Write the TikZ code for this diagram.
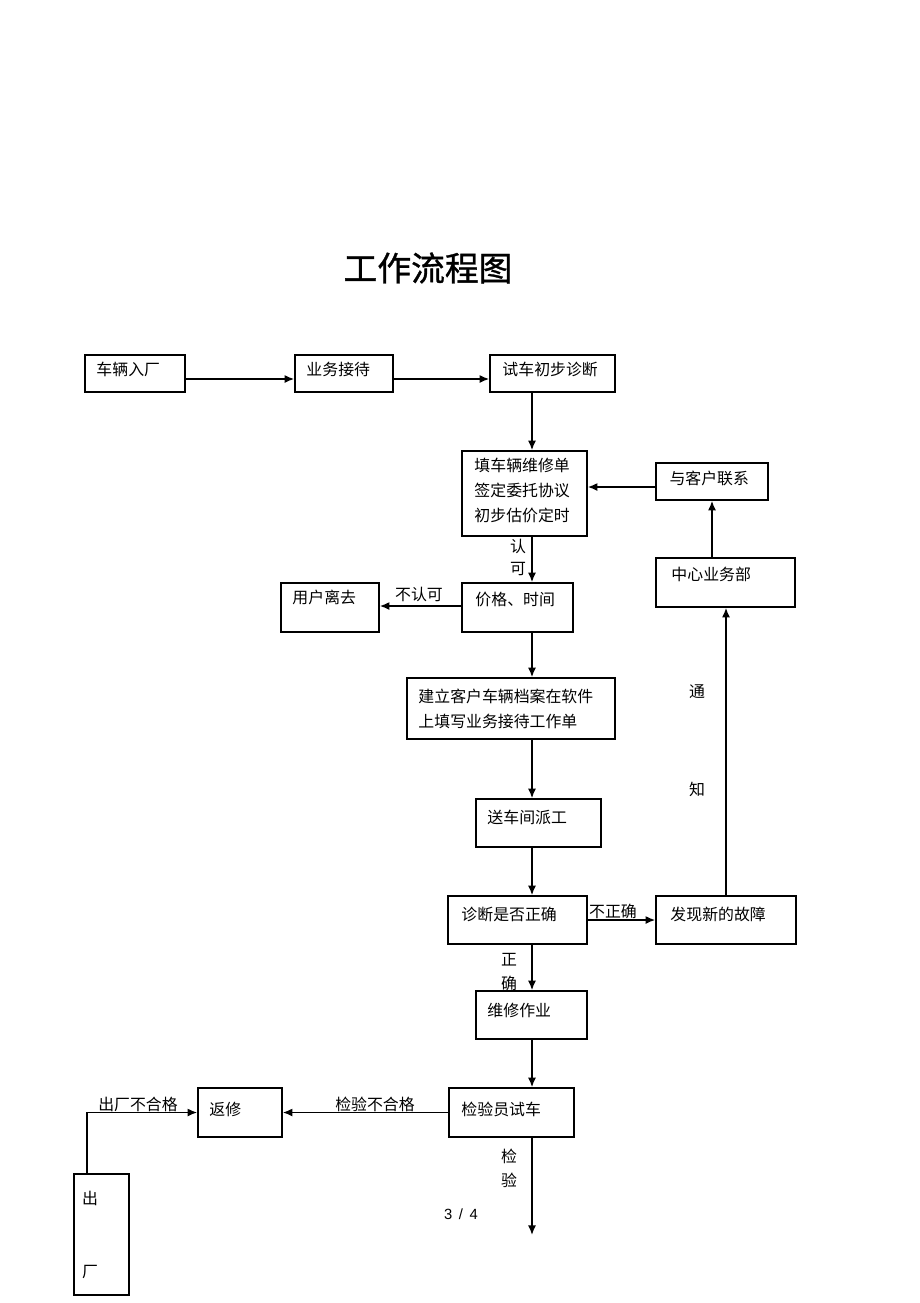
\documentclass[tikz,border=0pt]{standalone}
\usepackage{fontspec}
\setmainfont{Noto Sans CJK SC}
\newfontfamily\titlefont[FakeBold=1]{Noto Sans CJK SC}
\newfontfamily\pagefont{Liberation Sans}
\usetikzlibrary{arrows, arrows.meta, positioning, calc}
\tikzstyle{box} = [rectangle, draw, line width=1.1pt, inner sep=0pt]
\tikzstyle{txt} = [anchor=west, inner sep=0pt, font=\fontsize{11.3}{17.8}\selectfont]
\tikzstyle{lines} = [anchor=north west, align=left, inner sep=0pt, font=\fontsize{11.3}{17.8}\selectfont]
\tikzstyle{lbl} = [inner sep=0pt, font=\fontsize{11.3}{17.8}\selectfont]
\tikzstyle{flow} = [line width=1.1pt,-{Latex[length=0.24cm,width=0.2cm]}]
\begin{document}
\begin{tikzpicture}[x=0.025cm,y=-0.025cm]
  \useasboundingbox [fill=white] (0,0) rectangle (920,1303);
  \node (title) [inner sep=0pt] at (428,268) {\titlefont\fontsize{24}{28}\selectfont 工作流程图};

  \node (car) [box,minimum width=2.5cm,minimum height=0.925cm] at (135,373.5) {};
  \node (recv) [box,minimum width=2.45cm,minimum height=0.925cm] at (344,373.5) {};
  \node (test) [box,minimum width=3.125cm,minimum height=0.925cm] at (552.5,373.5) {};
  \node (form) [box,minimum width=3.125cm,minimum height=2.125cm] at (524.5,493.5) {};
  \node (contact) [box,minimum width=2.8cm,minimum height=0.925cm] at (712,481.5) {};
  \node (center) [box,minimum width=3.475cm,minimum height=1.225cm] at (725.5,582.5) {};
  \node (price) [box,minimum width=2.775cm,minimum height=1.225cm] at (517.5,607.5) {};
  \node (leave) [box,minimum width=2.45cm,minimum height=1.225cm] at (330,607.5) {};
  \node (file) [box,minimum width=5.2cm,minimum height=1.525cm] at (511,708.5) {};
  \node (send) [box,minimum width=3.125cm,minimum height=1.2cm] at (538.5,823) {};
  \node (diag) [box,minimum width=3.475cm,minimum height=1.2cm] at (517.5,920) {};
  \node (fault) [box,minimum width=3.5cm,minimum height=1.2cm] at (726,920) {};
  \node (repair) [box,minimum width=2.775cm,minimum height=1.2cm] at (531.5,1015) {};
  \node (inspect) [box,minimum width=3.125cm,minimum height=1.225cm] at (511.5,1112.5) {};
  \node (redo) [box,minimum width=2.1cm,minimum height=1.225cm] at (240,1112.5) {};
  \node (out) [box,minimum width=1.375cm,minimum height=3.025cm] at (101.5,1234.5) {};

  \node (carT) [txt] at ([shift={(12,15)}]car.north west) {车辆入厂};
  \node (recvT) [txt] at ([shift={(12,15)}]recv.north west) {业务接待};
  \node (testT) [txt] at ([shift={(13,15)}]test.north west) {试车初步诊断};
  \node (formT) [lines] at ([shift={(13,8)}]form.north west) {填车辆维修单\\签定委托协议\\初步估价定时};
  \node (contactT) [txt] at ([shift={(14,16)}]contact.north west) {与客户联系};
  \node (centerT) [txt] at ([shift={(16,17)}]center.north west) {中心业务部};
  \node (priceT) [txt] at ([shift={(14,17)}]price.north west) {价格、时间};
  \node (leaveT) [txt] at ([shift={(12,15)}]leave.north west) {用户离去};
  \node (fileT) [lines] at ([shift={(12,11)}]file.north west) {建立客户车辆档案在软件\\上填写业务接待工作单};
  \node (sendT) [txt] at ([shift={(12,19)}]send.north west) {送车间派工};
  \node (diagT) [txt] at ([shift={(14,19)}]diag.north west) {诊断是否正确};
  \node (faultT) [txt] at ([shift={(15,19)}]fault.north west) {发现新的故障};
  \node (repairT) [txt] at ([shift={(12,20)}]repair.north west) {维修作业};
  \node (inspectT) [txt] at ([shift={(13,22)}]inspect.north west) {检验员试车};
  \node (redoT) [txt] at ([shift={(12,22)}]redo.north west) {返修};
  \node (outA) [lbl] at (90,1198) {出};
  \node (outB) [lbl] at (90,1272) {厂};

  \node (okA) [lbl] at (518,546) {认};
  \node (okB) [lbl] at (518,569) {可};
  \node (notok) [lbl] at (419,594) {不认可};
  \node (tellA) [lbl] at (697,692) {通};
  \node (tellB) [lbl] at (697,789) {知};
  \node (wrong) [lbl] at (613,911) {不正确};
  \node (rightA) [lbl] at (509,960) {正};
  \node (rightB) [lbl] at (509,983) {确};
  \node (fail) [lbl] at (375,1104) {检验不合格};
  \node (outfail) [lbl] at (138,1104) {出厂不合格};
  \node (passA) [lbl] at (509,1156) {检};
  \node (passB) [lbl] at (509,1180) {验};
  \node (page) [inner sep=0pt] at (461,1214) {\pagefont\fontsize{10.5}{12}\selectfont 3\hspace{0.45em}/\hspace{0.45em}4};

  \coordinate (colA) at (532,0);
  \coordinate (colB) at (87,0);
  \coordinate (rowA) at (0,379);
  \coordinate (rowB) at (0,487);
  \coordinate (rowC) at (0,606);
  \coordinate (endpt) at (532,1235);

  \draw [flow] (car.east |- rowA) -- (recv.west |- rowA);
  \draw [flow] (recv.east |- rowA) -- (test.west |- rowA);
  \draw [flow] (test.south -| colA) -- (form.north -| colA);
  \draw [flow] (contact.west |- rowB) -- (form.east |- rowB);
  \draw [flow] (center.north -| contact.south) -- (contact.south);
  \draw [flow] (form.south -| colA) -- (price.north -| colA);
  \draw [flow] (price.west |- rowC) -- (leave.east |- rowC);
  \draw [flow] (price.south -| colA) -- (file.north -| colA);
  \draw [flow] (file.south -| colA) -- (send.north -| colA);
  \draw [flow] (send.south -| colA) -- (diag.north -| colA);
  \draw [flow] (diag.east) -- (fault.west);
  \draw [flow] (fault.north) -- (center.south -| fault.north);
  \draw [flow] (diag.south -| colA) -- (repair.north -| colA);
  \draw [flow] (repair.south -| colA) -- (inspect.north -| colA);
  \draw [flow] (inspect.west) -- (redo.east);
  \draw [flow] (out.north -| colB) |- (redo.west);
  \draw [flow] (inspect.south -| colA) -- (endpt);
\end{tikzpicture}
\end{document}
